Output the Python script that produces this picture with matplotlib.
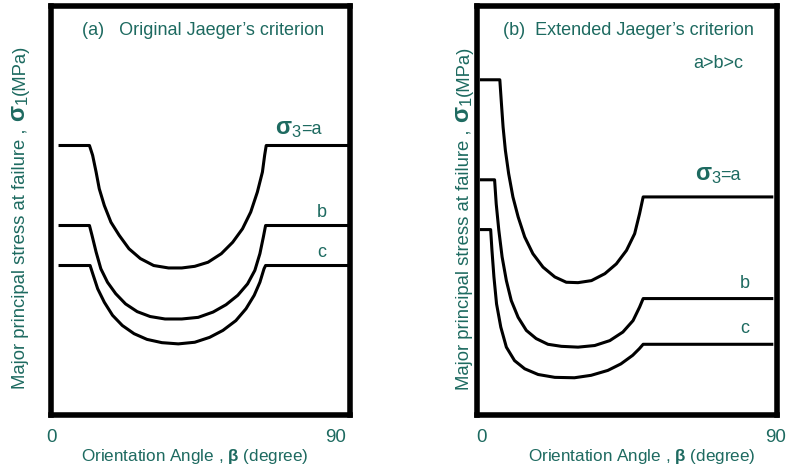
import numpy as np
import matplotlib
matplotlib.use('Agg')
import matplotlib.pyplot as plt
from matplotlib.transforms import IdentityTransform

plt.rcParams['font.family'] = ['Liberation Sans', 'DejaVu Sans']
plt.rcParams['mathtext.fontset'] = 'custom'
plt.rcParams['mathtext.rm'] = 'Liberation Sans'
plt.rcParams['mathtext.it'] = 'Liberation Sans'
plt.rcParams['mathtext.bf'] = 'Liberation Sans:bold'

teal = '#1d6a60'

# panel (a) original Jaeger: orientation angle (deg) vs sigma1 (relative units)
a_x_a = [2.8, 12.1, 13.1, 14.2, 15.2, 16.8, 18.9, 21.5, 24.6, 28.2, 32.4, 37.1, 41.3, 45.4, 49.6,
         53.8, 57.4, 60.5, 63.1, 65.2, 66.8, 67.5, 68.0, 94.4]
a_y_a = [65.9, 65.9, 63.5, 59.4, 55.3, 51.2, 47.1, 43.9, 40.6, 38.2, 36.5, 35.9, 35.9, 36.3, 37.3,
         39.4, 42.2, 45.5, 49.6, 54.5, 59.4, 63.5, 65.9, 65.9]
a_x_b = [2.8, 12.1, 12.9, 14.2, 15.7, 17.8, 20.4, 23.5, 27.2, 31.3, 36.0, 41.3, 46.5, 51.2, 55.3,
         59.0, 62.1, 64.4, 66.0, 67.1, 67.8, 94.4]
a_y_b = [46.3, 46.3, 43.9, 39.8, 35.7, 32.4, 29.6, 27.1, 25.2, 24.0, 23.4, 23.4, 23.8, 25.1, 26.9,
         29.2, 32.0, 35.3, 39.4, 43.5, 46.3, 46.3]
a_x_c = [2.8, 12.3, 13.3, 14.7, 16.8, 19.4, 22.5, 26.2, 30.3, 35.0, 40.2, 45.4, 50.1, 54.3, 58.4,
         61.6, 64.2, 66.0, 67.3, 67.8, 94.4]
a_y_c = [36.5, 36.5, 34.1, 30.8, 27.5, 24.3, 21.8, 19.8, 18.4, 17.6, 17.3, 17.7, 18.9, 20.6, 23.0,
         25.9, 29.2, 32.4, 35.7, 36.5, 36.5]

# panel (b) extended Jaeger
b_x_a = [0.0, 5.6, 6.1, 6.6, 7.3, 8.3, 9.6, 11.2, 13.2, 15.7, 18.8, 22.4, 25.9, 29.5, 33.6, 37.7,
         41.2, 44.3, 46.8, 48.3, 49.4, 88.7]
b_y_a = [82.0, 82.0, 76.1, 70.4, 64.7, 59.0, 53.3, 48.4, 43.5, 39.4, 36.1, 33.7, 32.4, 32.3, 32.8, 34.5,
         36.9, 40.2, 44.3, 49.2, 53.3, 53.3]
b_x_b = [0.0, 4.0, 4.5, 5.3, 6.3, 7.6, 9.1, 11.2, 13.7, 16.7, 20.3, 24.4, 29.5, 34.6, 39.2, 43.2,
         46.3, 48.3, 49.4, 88.7]
b_y_b = [57.5, 57.5, 51.6, 45.1, 38.6, 32.8, 27.9, 23.8, 20.6, 18.6, 17.2, 16.7, 16.5, 16.9, 18.1, 20.2,
         23.0, 26.3, 28.4, 28.4]
b_x_c = [0.0, 2.8, 3.2, 3.8, 4.6, 5.9, 7.6, 10.1, 13.2, 17.3, 22.4, 28.4, 33.5, 38.6, 42.6, 46.2,
         48.2, 49.4, 88.7]
b_y_c = [45.3, 45.3, 40.2, 33.7, 27.1, 21.4, 16.5, 13.2, 11.2, 9.8, 9.1, 9.0, 9.6, 10.8, 12.4, 14.5,
         16.1, 17.2, 17.2]

xticks = [0, 90]
xticklabels = ['0', '90']
ylab_parts = ['Major principal stress at failure , ', r'$\mathbf{\sigma}_{1}$', '(MPa)']
ylab_sizes = [13.3, 17, 13.3]
xlab = r'Orientation Angle , $\mathbf{\beta}$ (degree)'
s3_parts = [r'$\mathbf{\sigma}_{3}$', '=a']
s3_sizes = [17, 13]

fig = plt.figure(figsize=(7.9, 4.68), dpi=100)
W, H = 790, 468
axa = fig.add_axes([51.2/W, 1-414.5/H, 298.5/W, 408.2/H])
axb = fig.add_axes([477.3/W, 1-414.5/H, 299.4/W, 408.2/H])

def style(ax, xlim, xlx):
    ax.set_xlim(xlim)
    ax.set_ylim(0, 100)
    ax.set_yticks([])
    ax.set_xticks(xticks)
    ax.set_xticklabels(xticklabels)
    ax.tick_params(axis='x', length=0, pad=10.5, labelsize=13.5, labelcolor=teal)
    for s in ax.spines.values():
        s.set_linewidth(4)
        s.set_color('black')
    ax.set_xlabel(xlab, fontsize=12.3, color=teal)
    ax.xaxis.set_label_coords(xlx, -0.113)
    ax.xaxis.label.set_va('baseline')

lw = 2.2
for xs, ys in [(a_x_a, a_y_a), (a_x_b, a_y_b), (a_x_c, a_y_c)]:
    axa.plot(xs, ys, color='black', lw=lw, solid_joinstyle='round')
for xs, ys in [(b_x_a, b_y_a), (b_x_b, b_y_b), (b_x_c, b_y_c)]:
    axb.plot(xs, ys, color='black', lw=lw, solid_joinstyle='round')

style(axa, (0.94, 94.4), 0.48)
style(axb, (-1.28, 90.2), 0.548)

renderer = fig.canvas.get_renderer()

def chain(x, y, parts, sizes, rot, gap):
    # x, y in display pixels (origin bottom-left); parts laid one after another
    for p, fs in zip(parts, sizes):
        t = fig.text(x, y, p, transform=IdentityTransform(), rotation=rot, rotation_mode='anchor',
                     ha='left', va='baseline', fontsize=fs, color=teal)
        bb = t.get_window_extent(renderer)
        if rot == 90:
            y += bb.height + gap
        else:
            x += bb.width + gap

# y labels
chain(25, H - 389, ylab_parts, ylab_sizes, 90, 1)
chain(469, H - 390, ylab_parts, ylab_sizes, 90, 1)

# sigma3 labels
px, py = axa.transData.transform((70.9, 68.6))
chain(px, py, s3_parts, s3_sizes, 0, -1.5)
px, py = axb.transData.transform((65.3, 57.4))
chain(px, py, s3_parts, s3_sizes, 0, -1.5)

axa.text(9.7, 92.9, "(a)   Original Jaeger\u2019s criterion", fontsize=13, color=teal, va='baseline')
axa.text(84.1, 48.3, 'b', fontsize=13, color=teal, va='baseline')
axa.text(84.1, 38.5, 'c', fontsize=13, color=teal, va='baseline')

axb.text(6.6, 92.9, "(b)  Extended Jaeger\u2019s criterion", fontsize=13, color=teal, va='baseline')
axb.text(64.6, 85.0, 'a>b>c', fontsize=13, color=teal, va='baseline')
axb.text(79.0, 31.1, 'b', fontsize=13, color=teal, va='baseline')
axb.text(79.0, 19.9, 'c', fontsize=13, color=teal, va='baseline')

fig.savefig('out.png', dpi=100)
